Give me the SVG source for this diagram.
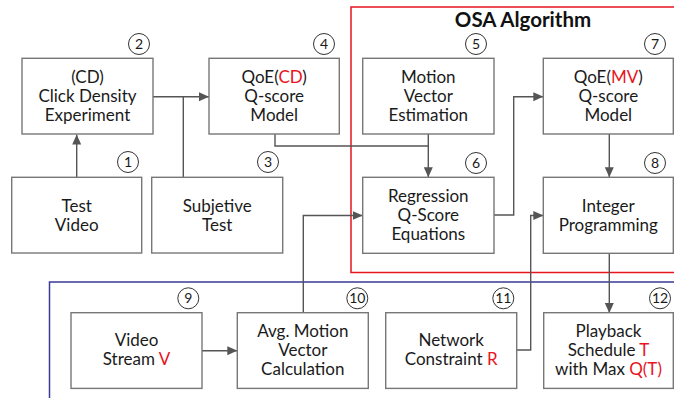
<svg xmlns="http://www.w3.org/2000/svg" width="674" height="398" viewBox="0 0 674 398">
<defs>
<marker id="ah" markerUnits="userSpaceOnUse" markerWidth="10" markerHeight="10" refX="10" refY="4.5" orient="auto">
<path d="M0,0 L10,4.5 L0,9 z" fill="#555"/>
</marker>
<style>
.box{fill:#fff;stroke:#777;stroke-width:1.4}
.t{font-family:Lato,"Open Sans","DejaVu Sans",sans-serif;font-size:17px;fill:#1a1a1a;text-anchor:middle}
.r{fill:#e8141e}
.c{fill:#fff;stroke:#333;stroke-width:1}
.n{font-family:Lato,"Open Sans","DejaVu Sans",sans-serif;font-size:14px;fill:#1a1a1a;text-anchor:middle}
.ln{fill:none;stroke:#555;stroke-width:1.4}
</style>
</defs>
<rect width="674" height="398" fill="#fff"/>
<g id="osa-region">
<rect x="351" y="7" width="330" height="265.5" fill="none" stroke="#e8141e" stroke-width="1.5"/>
<text x="523" y="27" style="font-family:Lato,'Open Sans','DejaVu Sans',sans-serif;font-size:20.5px;font-weight:bold;fill:#111;text-anchor:middle">OSA Algorithm</text>
</g>
<g id="stream-region">
<rect x="49.5" y="282" width="640" height="130" fill="none" stroke="#3a3a9a" stroke-width="1.5"/>
</g>
<g id="connectors">
<path class="ln" d="M76.7,177.5 V134.5" marker-end="url(#ah)"/>
<path class="ln" d="M153,96.7 H209" marker-end="url(#ah)"/>
<path class="ln" d="M183.3,177.5 V96.7"/>
<path class="ln" d="M275,134 V146 H428.3 V177.3" marker-end="url(#ah)"/>
<path class="ln" d="M428.3,134 V146"/>
<path class="ln" d="M494,215 H513.7 V96.7 H543.3" marker-end="url(#ah)"/>
<path class="ln" d="M609.3,134 V177.3" marker-end="url(#ah)"/>
<path class="ln" d="M609.3,253.3 V313" marker-end="url(#ah)"/>
<path class="ln" d="M516.7,350 H530.7 V215.5 H543.3" marker-end="url(#ah)"/>
<path class="ln" d="M303.3,313 V215.5 H362.7" marker-end="url(#ah)"/>
<path class="ln" d="M202,350.7 H237.3" marker-end="url(#ah)"/>
</g>
<g id="node1">
<rect class="box" x="11.7" y="177.3" width="130" height="75.7"/>
<text class="t" x="76.7" y="211.5">Test</text>
<text class="t" x="76.7" y="230.5">Video</text>
<circle class="c" cx="128" cy="162" r="10.5"/><text class="n" x="128" y="166.8">1</text>
</g>
<g id="node2">
<rect class="box" x="22" y="58.3" width="131" height="75.7"/>
<text class="t" x="87.5" y="83">(CD)</text>
<text class="t" x="87.5" y="102">Click Density</text>
<text class="t" x="87.5" y="121">Experiment</text>
<circle class="c" cx="139" cy="44" r="10.5"/><text class="n" x="139" y="48.8">2</text>
</g>
<g id="node3">
<rect class="box" x="151.7" y="177.3" width="131" height="75.7"/>
<text class="t" x="217.2" y="211.5">Subjetive</text>
<text class="t" x="217.2" y="230.5">Test</text>
<circle class="c" cx="268" cy="162" r="10.5"/><text class="n" x="268" y="166.8">3</text>
</g>
<g id="node4">
<rect class="box" x="209" y="58.3" width="130.3" height="75.7"/>
<text class="t" x="274.2" y="83">QoE(<tspan class="r">CD</tspan>)</text>
<text class="t" x="274.2" y="102">Q-score</text>
<text class="t" x="274.2" y="121">Model</text>
<circle class="c" cx="324" cy="44" r="10.5"/><text class="n" x="324" y="48.8">4</text>
</g>
<g id="node5">
<rect class="box" x="362.7" y="58.3" width="131.3" height="75.7"/>
<text class="t" x="428.3" y="83">Motion</text>
<text class="t" x="428.3" y="102">Vector</text>
<text class="t" x="428.3" y="121">Estimation</text>
<circle class="c" cx="476" cy="44" r="10.5"/><text class="n" x="476" y="48.8">5</text>
</g>
<g id="node6">
<rect class="box" x="362.7" y="177.3" width="131.3" height="76"/>
<text class="t" x="428.3" y="202">Regression</text>
<text class="t" x="428.3" y="221">Q-Score</text>
<text class="t" x="428.3" y="240">Equations</text>
<circle class="c" cx="476" cy="163" r="10.5"/><text class="n" x="476" y="167.8">6</text>
</g>
<g id="node7">
<rect class="box" x="543.3" y="58.3" width="130" height="75.7"/>
<text class="t" x="608.3" y="83">QoE(<tspan class="r">MV</tspan>)</text>
<text class="t" x="608.3" y="102">Q-score</text>
<text class="t" x="608.3" y="121">Model</text>
<circle class="c" cx="655" cy="44" r="10.5"/><text class="n" x="655" y="48.8">7</text>
</g>
<g id="node8">
<rect class="box" x="543.3" y="177.3" width="130" height="76"/>
<text class="t" x="608.3" y="211.5">Integer</text>
<text class="t" x="608.3" y="230.5">Programming</text>
<circle class="c" cx="655" cy="163" r="10.5"/><text class="n" x="655" y="167.8">8</text>
</g>
<g id="node9">
<rect class="box" x="71" y="312.7" width="131" height="75.7"/>
<text class="t" x="136.5" y="346">Video</text>
<text class="t" x="136.5" y="365">Stream <tspan class="r">V</tspan></text>
<circle class="c" cx="188.3" cy="298.3" r="10.5"/><text class="n" x="188.3" y="303.1">9</text>
</g>
<g id="node10">
<rect class="box" x="237.3" y="312.7" width="131" height="75.7"/>
<text class="t" x="302.8" y="336.5">Avg. Motion</text>
<text class="t" x="302.8" y="355.5">Vector</text>
<text class="t" x="302.8" y="374.5">Calculation</text>
<circle class="c" cx="357.3" cy="298.3" r="10.5"/><text class="n" x="357.3" y="303.1">10</text>
</g>
<g id="node11">
<rect class="box" x="385.7" y="312.7" width="131" height="75.7"/>
<text class="t" x="451.2" y="346">Network</text>
<text class="t" x="451.2" y="365">Constraint <tspan class="r">R</tspan></text>
<circle class="c" cx="503.3" cy="298.3" r="10.5"/><text class="n" x="503.3" y="303.1">11</text>
</g>
<g id="node12">
<rect class="box" x="543.7" y="312.7" width="129.6" height="75.7"/>
<text class="t" x="608.5" y="336.5">Playback</text>
<text class="t" x="608.5" y="355.5">Schedule <tspan class="r">T</tspan></text>
<text class="t" x="608.5" y="374.5">with Max <tspan class="r">Q(T)</tspan></text>
<circle class="c" cx="660" cy="298.3" r="10.5"/><text class="n" x="660" y="303.1">12</text>
</g>
</svg>
